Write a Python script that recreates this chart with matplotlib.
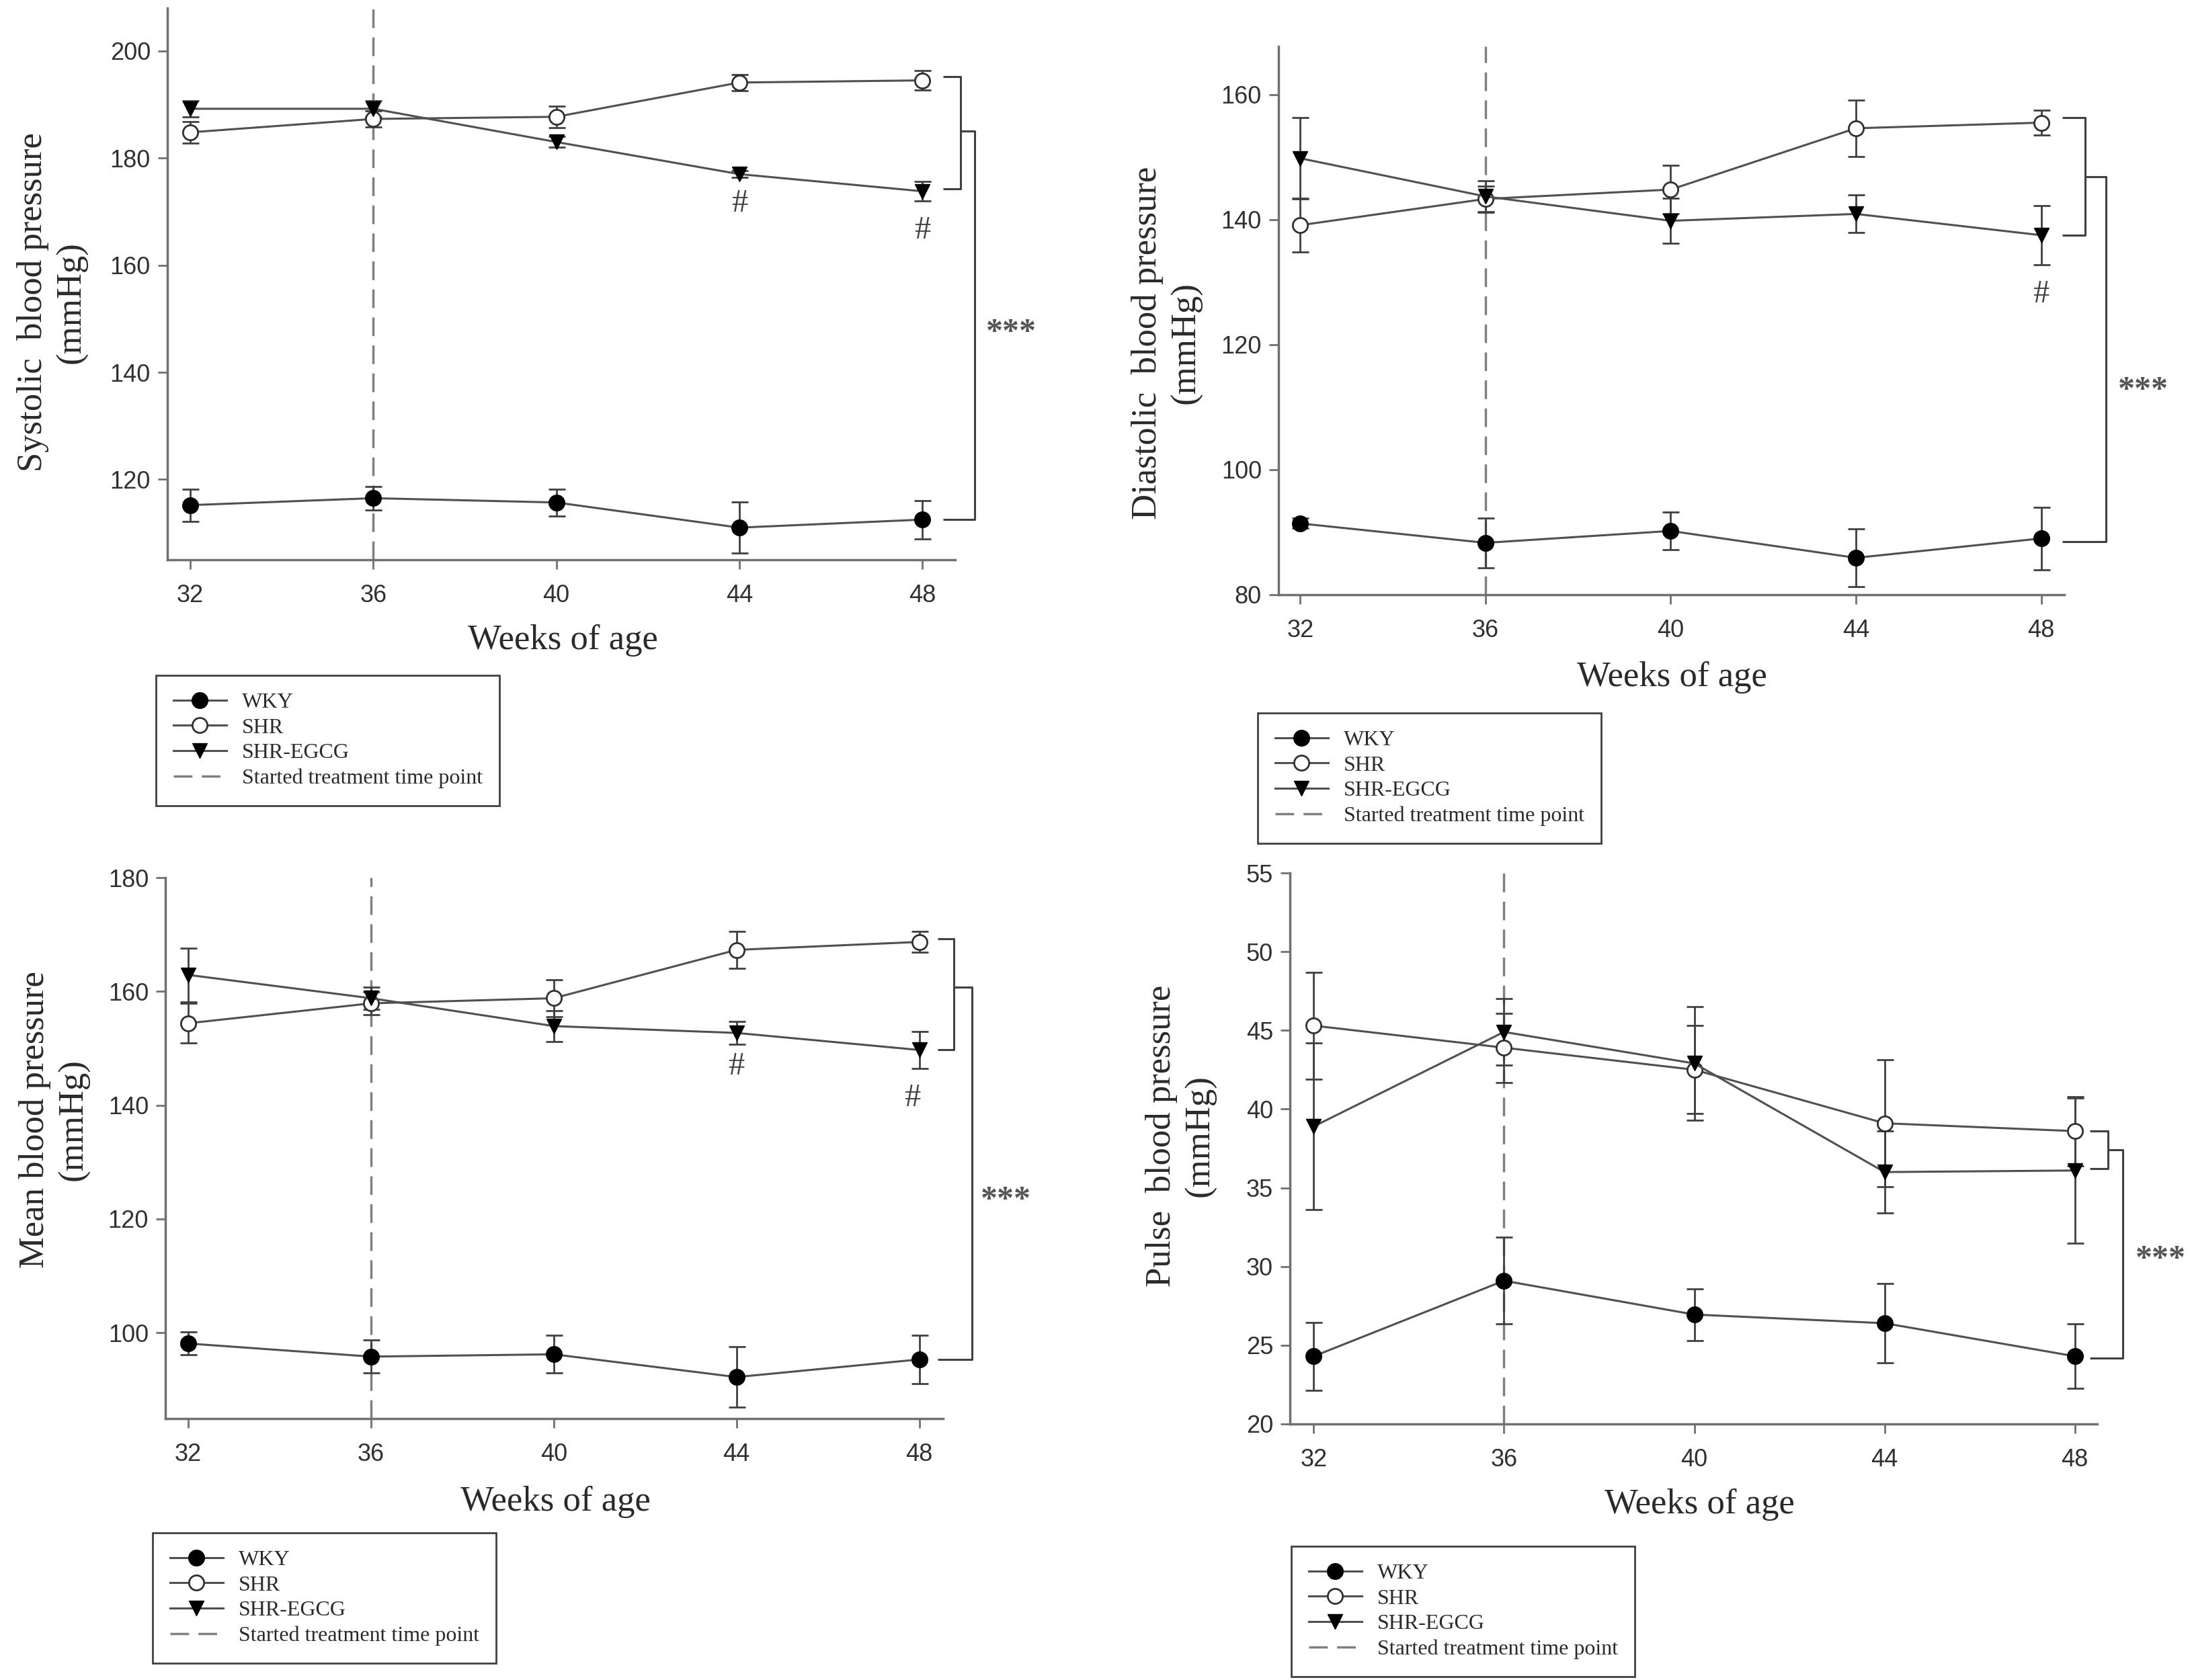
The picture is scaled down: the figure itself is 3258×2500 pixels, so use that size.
import matplotlib
matplotlib.use("Agg")
import matplotlib.pyplot as plt
from matplotlib.lines import Line2D

W, H = 3258, 2500
SERIF = "Liberation Serif"
SANS = "Liberation Sans"
LINE_C = "#505050"
AXIS_C = "#707070"
TEXT_C = "#2a2a2a"

WEEKS = [32, 36, 40, 44, 48]
GROUPS = ["WKY", "SHR", "SHR-EGCG"]

# systolic
sbp_wky = [115.2, 116.5, 115.7, 111.0, 112.5]
sbp_wky_err = [3.0, 2.2, 2.5, 4.8, 3.6]
sbp_shr = [184.8, 187.3, 187.7, 194.1, 194.5]
sbp_shr_err = [2.0, 1.5, 2.0, 1.5, 1.8]
sbp_egcg = [189.2, 189.2, 183.0, 177.0, 173.8]
sbp_egcg_err = [1.5, 1.5, 1.0, 0.6, 1.8]

# diastolic
dbp_wky = [91.4, 88.3, 90.2, 85.9, 89.0]
dbp_wky_err = [0.8, 4.0, 3.0, 4.6, 5.0]
dbp_shr = [139.1, 143.3, 144.8, 154.6, 155.5]
dbp_shr_err = [4.3, 2.0, 3.9, 4.5, 2.0]
dbp_egcg = [149.8, 143.7, 139.8, 140.9, 137.5]
dbp_egcg_err = [6.5, 2.5, 3.6, 3.0, 4.7]

# mean
mbp_wky = [98.1, 95.8, 96.2, 92.2, 95.3]
mbp_wky_err = [2.0, 2.9, 3.3, 5.3, 4.3]
mbp_shr = [154.4, 157.9, 158.8, 167.3, 168.7]
mbp_shr_err = [3.5, 2.0, 3.3, 3.3, 1.8]
mbp_egcg = [162.9, 158.8, 153.9, 152.7, 149.7]
mbp_egcg_err = [4.7, 2.0, 2.7, 2.0, 3.3]

# pulse
pp_wky = [24.3, 29.1, 26.95, 26.4, 24.3]
pp_wky_err = [2.15, 2.75, 1.65, 2.5, 2.05]
pp_shr = [45.3, 43.9, 42.5, 39.1, 38.6]
pp_shr_err = [3.4, 2.2, 2.8, 4.05, 2.2]
pp_egcg = [38.9, 44.9, 42.9, 36.0, 36.1]
pp_egcg_err = [5.3, 2.1, 3.6, 2.6, 4.6]

TREATMENT_WEEK = 36

STYLES = {
    "WKY": dict(marker="o", ms=17, mfc="black", mec="black"),
    "SHR": dict(marker="o", ms=16, mfc="white", mec="#303030", mew=2),
    "SHR-EGCG": dict(marker="v", ms=16, mfc="black", mec="black"),
}

# pixel layout of each panel: axes box, label spots, legend corner
PANELS = [
    dict(title="Systolic  blood pressure", box=(249, 12, 1421, 833),
         xlim=(31.5, 48.72), ylim=(105, 208), yticks=[120, 140, 160, 180, 200],
         data=[(sbp_wky, sbp_wky_err), (sbp_shr, sbp_shr_err), (sbp_egcg, sbp_egcg_err)],
         ylab=(78, 450), xlab=(837, 953), legend=(232, 1005),
         hashes=[(44, 171.5), (48, 166.5)],
         bracket=dict(stub=48.45, inner=48.84, outer=49.15, top=195.2, low=174.2,
                      mid=185.0, bottom=112.5, star=(49.95, 147.3))),
    dict(title="Diastolic  blood pressure", box=(1902, 69, 3071, 885),
         xlim=(31.53, 48.5), ylim=(80, 167.7), yticks=[80, 100, 120, 140, 160],
         data=[(dbp_wky, dbp_wky_err), (dbp_shr, dbp_shr_err), (dbp_egcg, dbp_egcg_err)],
         ylab=(1736, 510), xlab=(2487, 1008), legend=(1871, 1061),
         hashes=[(48, 128.0)],
         bracket=dict(stub=48.45, inner=48.95, outer=49.4, top=156.3, low=137.5,
                      mid=146.8, bottom=88.5, star=(50.2, 112.6))),
    dict(title="Mean blood pressure", box=(246, 1306, 1403, 2111),
         xlim=(31.5, 48.52), ylim=(84.9, 180), yticks=[100, 120, 140, 160, 180],
         data=[(mbp_wky, mbp_wky_err), (mbp_shr, mbp_shr_err), (mbp_egcg, mbp_egcg_err)],
         ylab=(81, 1666), xlab=(826, 2235), legend=(227, 2281),
         hashes=[(44, 146.8), (47.85, 141.2)],
         bracket=dict(stub=48.4, inner=48.75, outer=49.15, top=169.2, low=149.7,
                      mid=160.7, bottom=95.3, star=(49.9, 123.2))),
    dict(title="Pulse  blood pressure", box=(1919, 1299, 3120, 2119),
         xlim=(31.5, 48.47), ylim=(20, 55), yticks=[20, 25, 30, 35, 40, 45, 50, 55],
         data=[(pp_wky, pp_wky_err), (pp_shr, pp_shr_err), (pp_egcg, pp_egcg_err)],
         ylab=(1757, 1690), xlab=(2528, 2239), legend=(1921, 2301),
         hashes=[],
         bracket=dict(stub=48.32, inner=48.7, outer=49.0, top=38.6, low=36.2,
                      mid=37.4, bottom=24.2, star=(49.8, 30.4))),
]


def add_axes_px(fig, left, top, right, bottom):
    return fig.add_axes([left / W, 1 - bottom / H, (right - left) / W, (bottom - top) / H])


def draw_bracket(ax, b):
    kw = dict(color="#404040", lw=2.2, clip_on=False, solid_capstyle="butt")
    ax.plot([b["stub"], b["inner"], b["inner"], b["stub"]],
            [b["top"], b["top"], b["low"], b["low"]], **kw)
    ax.plot([b["inner"], b["outer"], b["outer"], b["stub"]],
            [b["mid"], b["mid"], b["bottom"], b["bottom"]], **kw)
    ax.text(b["star"][0], b["star"][1], "***", family=SERIF, weight="bold",
            fontsize=36, color="#555555", ha="center", va="center", clip_on=False)


def make_panel(fig, p):
    ax = add_axes_px(fig, *p["box"])
    for sp in ["top", "right"]:
        ax.spines[sp].set_visible(False)
    for sp in ["left", "bottom"]:
        ax.spines[sp].set_color(AXIS_C)
        ax.spines[sp].set_linewidth(2.5)

    ax.axvline(TREATMENT_WEEK, color="#808080", lw=2.5, dashes=(8, 4), zorder=1)

    for name, (vals, errs) in zip(GROUPS, p["data"]):
        ax.errorbar(WEEKS, vals, yerr=errs, color=LINE_C, lw=2.2,
                    ecolor="#404040", elinewidth=2.0, capsize=9, capthick=2.0,
                    zorder=3, **STYLES[name])

    for x, y in p["hashes"]:
        ax.text(x, y, "#", family=SERIF, fontsize=35, color="#404040",
                ha="center", va="center")

    draw_bracket(ax, p["bracket"])

    ax.set_xlim(*p["xlim"])
    ax.set_ylim(*p["ylim"])
    ax.set_xticks(WEEKS)
    ax.set_yticks(p["yticks"])
    ax.tick_params(axis="both", direction="out", length=10, width=2,
                   color=AXIS_C, labelsize=26, labelcolor="#303030")
    ax.tick_params(axis="x", pad=16)
    ax.tick_params(axis="y", pad=8)
    for lab in ax.get_xticklabels() + ax.get_yticklabels():
        lab.set_family(SANS)

    x, y = p["ylab"]
    fig.text(x / W, 1 - y / H, p["title"] + "\n(mmHg)", rotation=90,
             family=SERIF, fontsize=38, color=TEXT_C, ha="center", va="center",
             multialignment="center", linespacing=1.25)
    x, y = p["xlab"]
    fig.text(x / W, 1 - y / H, "Weeks of age", family=SERIF, fontsize=38,
             color=TEXT_C, ha="center", va="center")

    handles = [Line2D([], [], color=LINE_C, lw=2.2, **STYLES[n]) for n in GROUPS]
    handles.append(Line2D([], [], color="#808080", lw=2.5, dashes=(8, 4)))
    labels = GROUPS + ["Started treatment time point"]
    lx, ly = p["legend"]
    leg = fig.legend(handles, labels, loc="upper left",
                     bbox_to_anchor=(lx / W, 1 - ly / H), bbox_transform=fig.transFigure,
                     borderaxespad=0, frameon=True, fancybox=False, framealpha=1,
                     prop={"family": SERIF, "size": 23}, labelspacing=0.26,
                     handlelength=2.5, handletextpad=0.7, borderpad=0.8,
                     labelcolor=TEXT_C)
    leg.get_frame().set_edgecolor("#404040")
    leg.get_frame().set_linewidth(2.0)
    return ax


def main():
    fig = plt.figure(figsize=(W / 100, H / 100), dpi=100)
    for p in PANELS:
        make_panel(fig, p)
    fig.savefig("out.png", dpi=100, facecolor="white")


if __name__ == "__main__":
    main()
